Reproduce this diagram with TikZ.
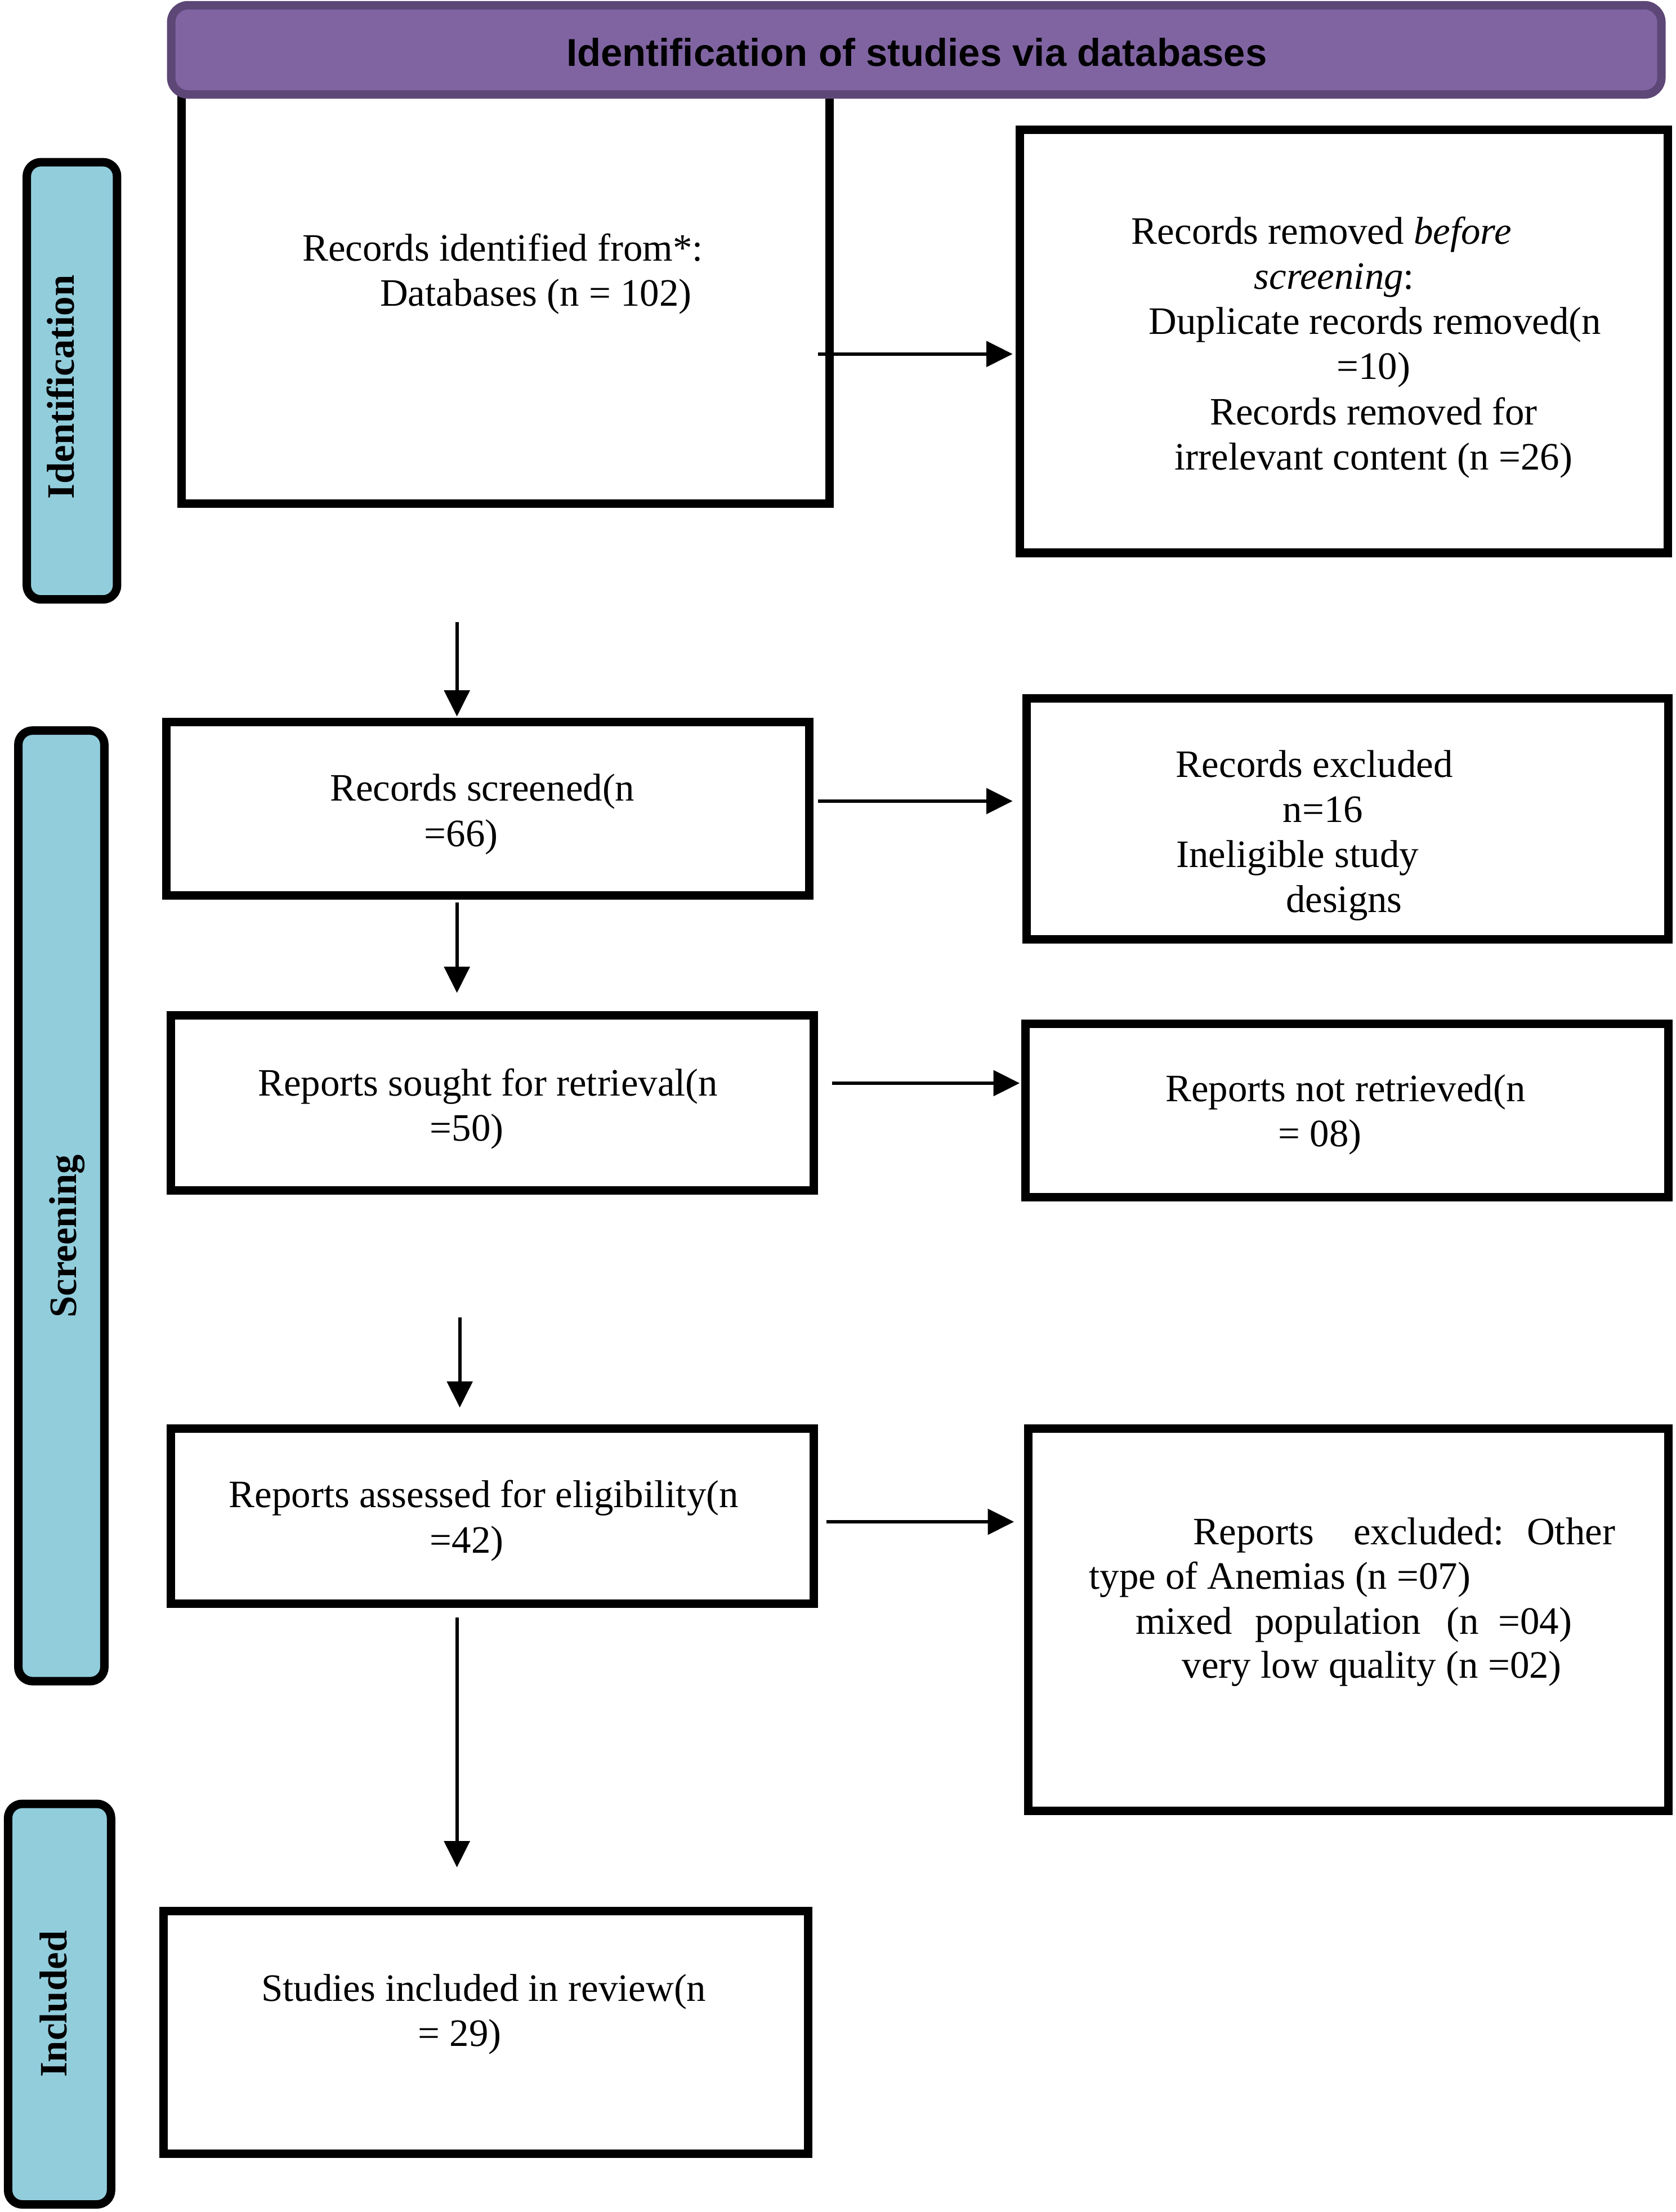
\documentclass[tikz,border=0pt]{standalone}
\usepackage{fontspec}
\setmainfont{Liberation Serif}
\newfontfamily\hdrfont{Liberation Sans}
\usetikzlibrary{arrows.meta}
\definecolor{hdrfill}{HTML}{8064A2}
\definecolor{hdrline}{HTML}{5D4777}
\definecolor{sidefill}{HTML}{92CDDC}
\begin{document}
\begin{tikzpicture}[x=1pt,y=-1pt,
  box/.style={draw=black,line width=6pt,fill=white,inner sep=0pt,rectangle},
  side/.style={draw=black,line width=6pt,fill=sidefill,inner sep=0pt,rectangle,rounded corners=10pt},
  txt/.style={anchor=base,inner sep=0pt,font=\fontsize{27.5}{31.7}\selectfont},
  txtl/.style={anchor=base west,inner sep=0pt,font=\fontsize{27.5}{31.7}\selectfont},
  sidetxt/.style={anchor=base,inner sep=0pt,rotate=90,font=\bfseries\fontsize{27.5}{31.7}\selectfont},
  arr/.style={line width=2.4pt,-{Triangle[length=18.6pt,width=18pt]}}]
\useasboundingbox (0,0) rectangle (1188,1568.4);
% boxes
\node[box,minimum width=459.4pt,minimum height=297pt] (b1) at (358.3,208.5) {};
\node[box,minimum width=459.5pt,minimum height=300pt] (b2) at (952.75,242) {};
\node[box,minimum width=456pt,minimum height=123pt] (b3) at (346,573.5) {};
\node[box,minimum width=455pt,minimum height=171pt] (b4) at (955.5,580.5) {};
\node[box,minimum width=456pt,minimum height=124pt] (b5) at (349,782) {};
\node[box,minimum width=456pt,minimum height=123pt] (b6) at (955,787.5) {};
\node[box,minimum width=456pt,minimum height=124pt] (b7) at (349,1075) {};
\node[box,minimum width=454pt,minimum height=271pt] (b8) at (956,1148.5) {};
\node[box,minimum width=457pt,minimum height=172pt] (b9) at (344.5,1441) {};
% header
\node[draw=hdrline,line width=6pt,fill=hdrfill,rounded corners=12pt,inner sep=0pt,
  minimum width=1056.6pt,minimum height=63.3pt] (hdr) at (649.7,35.35) {};
\node[anchor=base,inner sep=0pt,font=\hdrfont\bfseries\fontsize{27.5}{31.7}\selectfont] (hdrt) at (650,47) {Identification of studies via databases};
% side labels
\node[side,minimum width=64pt,minimum height=310pt] (s1) at (51,270) {};
\node[side,minimum width=61pt,minimum height=674pt] (s2) at (43.5,855) {};
\node[side,minimum width=73pt,minimum height=284pt] (s3) at (42.25,1421) {};
\node[sidetxt] (s1t) at (52.6,274.5) {Identification};
\node[sidetxt] (s2t) at (54,876.5) {Screening};
\node[sidetxt] (s3t) at (47.2,1421) {Included};
% texts
\node[txt] (t1a) at (356.5,185) {Records identified from*:};
\node[txt] (t1b) at (380,217) {Databases (n = 102)};
\node[txt] (t2a) at (937,173) {Records removed \textit{before}};
\node[txt] (t2b) at (946,205) {\textit{screening}:};
\node[txt] (t2c) at (975,237) {Duplicate records removed(n};
\node[txt] (t2d) at (974,269) {=10)};
\node[txt] (t2e) at (974,301) {Records removed for};
\node[txt] (t2f) at (974,333) {irrelevant content (n =26)};
\node[txt] (t3a) at (342,568) {Records screened(n};
\node[txt] (t3b) at (327,600) {=66)};
\node[txt] (t4a) at (932,551) {Records excluded};
\node[txt] (t4b) at (938,583) {n=16};
\node[txt] (t4c) at (920,615) {Ineligible study};
\node[txt] (t4d) at (953,647) {designs};
\node[txt] (t5a) at (346,777) {Reports sought for retrieval(n};
\node[txt] (t5b) at (331,809) {=50)};
\node[txt] (t6a) at (954,781) {Reports not retrieved(n};
\node[txt] (t6b) at (936,813) {= 08)};
\node[txt] (t7a) at (343,1069) {Reports assessed for eligibility(n};
\node[txt] (t7b) at (331,1101) {=42)};
\node[txtl] (t8a) at (846,1095) {Reports\hspace{28pt}excluded:\hspace{16pt}Other};
\node[txtl] (t8b) at (772,1126.5) {type of Anemias (n =07)};
\node[txtl] (t8c) at (805,1158.5) {mixed\hspace{16pt}population\hspace{18pt}(n\hspace{14pt}=04)};
\node[txtl] (t8d) at (838,1189.6) {very low quality (n =02)};
\node[txt] (t9a) at (343,1419) {Studies included in review(n};
\node[txt] (t9b) at (326,1451) {= 29)};
% arrow start points
\coordinate (a1) at (580,251);
\coordinate (a2) at (324,441);
\coordinate (a3) at (580,568);
\coordinate (a4) at (324,640);
\coordinate (a5) at (590,768);
\coordinate (a6) at (326,934);
\coordinate (a7) at (586,1079);
\coordinate (a8) at (324,1147);
\draw[arr] (a1) -- ([xshift=-2pt]a1 -| b2.west);
\draw[arr] (a2) -- ([yshift=1pt]a2 |- b3.north);
\draw[arr] (a3) -- ([xshift=-7pt]a3 -| b4.west);
\draw[arr] (a4) -- ([yshift=13pt]a4 |- b5.north);
\draw[arr] (a5) -- ([xshift=-1pt]a5 -| b6.west);
\draw[arr] (a6) -- ([yshift=12pt]a6 |- b7.north);
\draw[arr] (a7) -- ([xshift=-7pt]a7 -| b8.west);
\draw[arr] (a8) -- ([yshift=28pt]a8 |- b9.north);
\end{tikzpicture}
\end{document}
